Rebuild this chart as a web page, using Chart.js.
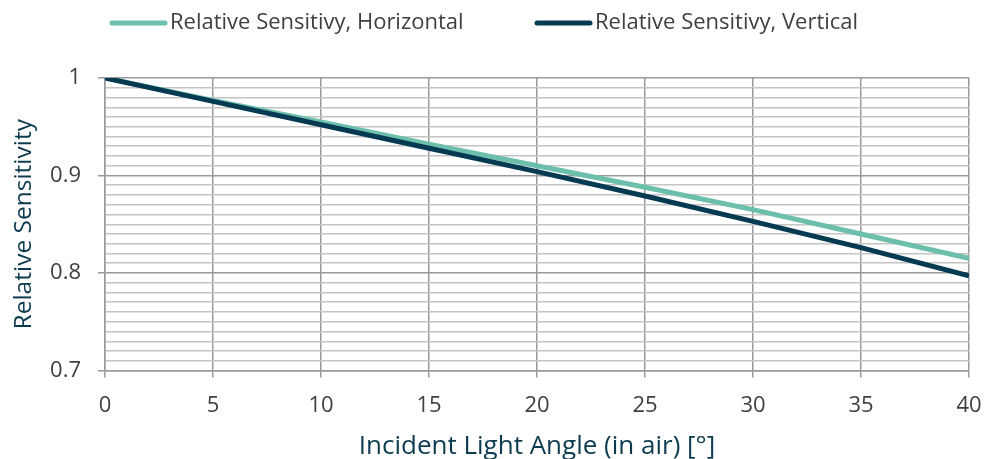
<!DOCTYPE html>
<html><head><meta charset="utf-8">
<script src="https://cdn.jsdelivr.net/npm/chart.js@4"></script>
<style>html,body{margin:0;padding:0;background:#fff}#wrap{width:984px;height:459px}</style>
</head><body><div id="wrap"><canvas id="c" width="984" height="459"></canvas></div>
<script>
const angles = [0, 5, 10, 15, 20, 25, 30, 35, 40];
const horizontal = [1.0, 0.977, 0.955, 0.932, 0.910, 0.888, 0.865, 0.840, 0.815];
const vertical = [1.0, 0.976, 0.952, 0.928, 0.904, 0.879, 0.853, 0.826, 0.797];
const seriesNames = ['Relative Sensitivy, Horizontal', 'Relative Sensitivy, Vertical'];
const yMajorTicks = [0.7, 0.8, 0.9, 1.0];
const yTickLabels = ['0.7', '0.8', '0.9', '1'];
const xTicks = [0, 5, 10, 15, 20, 25, 30, 35, 40];

const teal = '#6bbfab', navy = '#063a52';
const FONT = "'Open Sans', sans-serif";
const isMajor = v => yMajorTicks.some(m => Math.abs(m - v) < 1e-6);

const legendPlugin = {
  id: 'customLegend',
  afterDraw(chart) {
    const ctx = chart.ctx;
    const items = [{t: seriesNames[0], c: teal, x: 112}, {t: seriesNames[1], c: navy, x: 537}];
    ctx.save();
    ctx.font = '22px ' + FONT;
    ctx.textBaseline = 'middle';
    ctx.fillStyle = '#404040';
    items.forEach(it => {
      ctx.strokeStyle = it.c; ctx.lineWidth = 5; ctx.lineCap = 'round';
      ctx.beginPath(); ctx.moveTo(it.x, 23); ctx.lineTo(it.x + 53, 23); ctx.stroke();
      ctx.fillText(it.t, it.x + 58, 23);
    });
    ctx.restore();
  }
};

new Chart(document.getElementById('c'), {
  type: 'line',
  data: {
    datasets: [
      {label: seriesNames[0], data: angles.map((a, i) => ({x: a, y: horizontal[i]})), borderColor: teal, borderWidth: 5, pointRadius: 0, fill: false, order: 2, tension: 0},
      {label: seriesNames[1], data: angles.map((a, i) => ({x: a, y: vertical[i]})), borderColor: navy, borderWidth: 5, pointRadius: 0, fill: false, order: 1, tension: 0}
    ]
  },
  plugins: [legendPlugin],
  options: {
    responsive: false, animation: false,
    layout: {padding: {top: 78, right: 15, bottom: 0, left: 0}},
    plugins: {legend: {display: false}, tooltip: {enabled: false}},
    scales: {
      x: {
        type: 'linear', min: 0, max: 40,
        afterBuildTicks: s => { s.ticks = xTicks.map(v => ({value: v})); },
        afterFit: s => { s.height = 88.5; s.paddingRight = 0; s.paddingLeft = 0; },
        ticks: {color: '#404040', font: {family: FONT, size: 22}, padding: 15, callback: v => String(v)},
        grid: {color: '#9a9a9a', lineWidth: 1.5, tickLength: 7, tickColor: '#9a9a9a'},
        border: {color: '#9a9a9a', width: 1.5},
        title: {display: true, text: 'Incident Light Angle (in air) [°]', color: '#0d3b4f', font: {family: FONT, size: 26}, padding: {top: 0, bottom: -3}}
      },
      y: {
        type: 'linear', min: 0.7, max: 1.0,
        afterBuildTicks: s => { const t = []; for (let i = 0; i <= 30; i++) t.push({value: (70 + i) / 100}); s.ticks = t; },
        afterFit: s => { s.width = 105; },
        ticks: {color: '#404040', font: {family: FONT, size: 22}, padding: 17, autoSkip: false,
          callback: v => { const k = yMajorTicks.findIndex(m => Math.abs(m - v) < 1e-6); return k >= 0 ? yTickLabels[k] : ''; }},
        grid: {
          color: c => isMajor(c.tick.value) ? '#9a9a9a' : '#c4c4c4',
          lineWidth: 1.5,
          tickLength: 7,
          tickColor: c => isMajor(c.tick.value) ? '#9a9a9a' : 'rgba(0,0,0,0)'
        },
        border: {color: '#9a9a9a', width: 1.5},
        title: {display: true, text: 'Relative Sensitivity', color: '#0d3b4f', font: {family: FONT, size: 24.5}, padding: {top: 9, bottom: 0}}
      }
    }
  }
});
</script></body></html>
